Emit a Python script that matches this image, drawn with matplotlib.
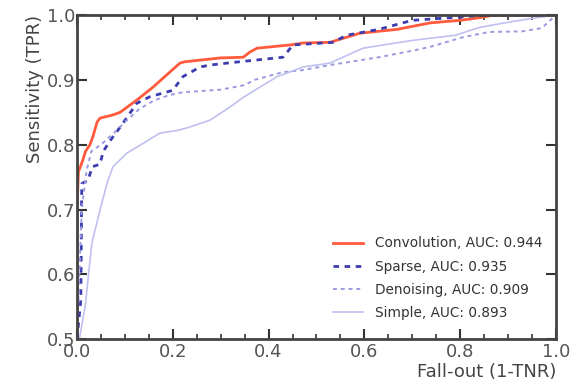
import numpy as np
import matplotlib
matplotlib.use("Agg")
import matplotlib.pyplot as plt
from matplotlib.ticker import MultipleLocator

# ROC curves (fall-out, sensitivity)
conv_fpr = [0.0, 0.0, 0.003, 0.012, 0.018, 0.027, 0.033, 0.042, 0.048, 0.075, 0.09, 0.125,
            0.159, 0.18, 0.215, 0.225, 0.30, 0.347, 0.361, 0.376, 0.445, 0.472, 0.528,
            0.59, 0.668, 0.737, 0.80, 0.84, 0.87, 1.0]
conv_tpr = [0.5, 0.70, 0.758, 0.776, 0.79, 0.80, 0.812, 0.835, 0.841, 0.846, 0.85, 0.869,
            0.889, 0.903, 0.926, 0.928, 0.934, 0.935, 0.943, 0.949, 0.954, 0.957, 0.958,
            0.972, 0.978, 0.988, 0.992, 0.996, 1.0, 1.0]

sparse_fpr = [0.0, 0.008, 0.010, 0.023, 0.032, 0.048, 0.055, 0.07, 0.09, 0.125, 0.152, 0.2,
              0.221, 0.257, 0.278, 0.326, 0.43, 0.451, 0.534, 0.563, 0.63, 0.70, 0.80, 0.85, 1.0]
sparse_tpr = [0.5, 0.56, 0.74, 0.745, 0.766, 0.77, 0.79, 0.807, 0.827, 0.864, 0.874, 0.884,
              0.905, 0.92, 0.923, 0.927, 0.935, 0.954, 0.958, 0.969, 0.978, 0.992, 0.997, 1.0, 1.0]

denoise_fpr = [0.0, 0.005, 0.01, 0.02, 0.03, 0.05, 0.08, 0.10, 0.13, 0.16, 0.19, 0.221, 0.30,
               0.35, 0.37, 0.43, 0.47, 0.528, 0.63, 0.70, 0.737, 0.806, 0.86, 0.93, 0.97, 1.0]
denoise_tpr = [0.5, 0.60, 0.70, 0.76, 0.79, 0.80, 0.82, 0.835, 0.855, 0.868, 0.876, 0.881, 0.885,
               0.892, 0.90, 0.912, 0.915, 0.923, 0.935, 0.945, 0.951, 0.966, 0.974, 0.975, 0.98, 1.0]

simple_fpr = [0.005, 0.012, 0.017, 0.031, 0.048, 0.063, 0.075, 0.104, 0.138, 0.173, 0.209,
              0.23, 0.278, 0.319, 0.347, 0.382, 0.418, 0.472, 0.528, 0.597, 0.70, 0.79,
              0.84, 0.90, 0.95, 1.0]
simple_tpr = [0.5, 0.53, 0.55, 0.648, 0.699, 0.741, 0.766, 0.787, 0.802, 0.818, 0.822,
              0.826, 0.838, 0.858, 0.873, 0.889, 0.905, 0.92, 0.926, 0.949, 0.961, 0.969,
              0.981, 0.989, 0.995, 1.0]

labels = ["Convolution, AUC: 0.944", "Sparse, AUC: 0.935",
          "Denoising, AUC: 0.909", "Simple, AUC: 0.893"]

fig = plt.figure(figsize=(5.81, 3.88), dpi=100)
ax = fig.add_axes([0.1325, 0.126, 0.8245, 0.835])

ax.plot(conv_fpr, conv_tpr, color="#ff5a3c", lw=2.0, label=labels[0])
ax.plot(sparse_fpr, sparse_tpr, color="#3c3cb0", lw=2.0, ls=(0, (2, 2)), label=labels[1])
ax.plot(denoise_fpr, denoise_tpr, color="#9a9ae0", lw=1.4, ls=(0, (2, 2)), label=labels[2])
ax.plot(simple_fpr, simple_tpr, color="#c0c0f0", lw=1.2, label=labels[3])

ax.set_xlim(0, 1)
ax.set_ylim(0.5, 1.0)
ax.xaxis.set_major_locator(MultipleLocator(0.2))
ax.xaxis.set_minor_locator(MultipleLocator(0.05))
ax.yaxis.set_major_locator(MultipleLocator(0.1))

for s in ax.spines.values():
    s.set_linewidth(2.0)
    s.set_color("#444444")
ax.tick_params(which="both", direction="in", top=True, right=True, color="#333333",
               labelcolor="#555555", labelsize=13)
ax.tick_params(which="major", length=7, width=1.5)
ax.tick_params(which="minor", length=3.5, width=1.2)
ax.tick_params(axis="x", pad=3)
ax.tick_params(axis="y", pad=1)

ax.set_xlabel("Fall-out (1-TNR)", fontsize=13, color="#444444", loc="right", labelpad=1)
ax.set_ylabel("Sensitivity (TPR)", fontsize=13, color="#444444", loc="top", labelpad=2)

leg = ax.legend(loc="lower right", bbox_to_anchor=(1.012, 0.0), frameon=False,
                fontsize=9.8, handlelength=2.2, handletextpad=0.9, labelspacing=0.68,
                borderaxespad=1.0)
for t in leg.get_texts():
    t.set_color("#333333")

fig.savefig("out.png", dpi=100)
